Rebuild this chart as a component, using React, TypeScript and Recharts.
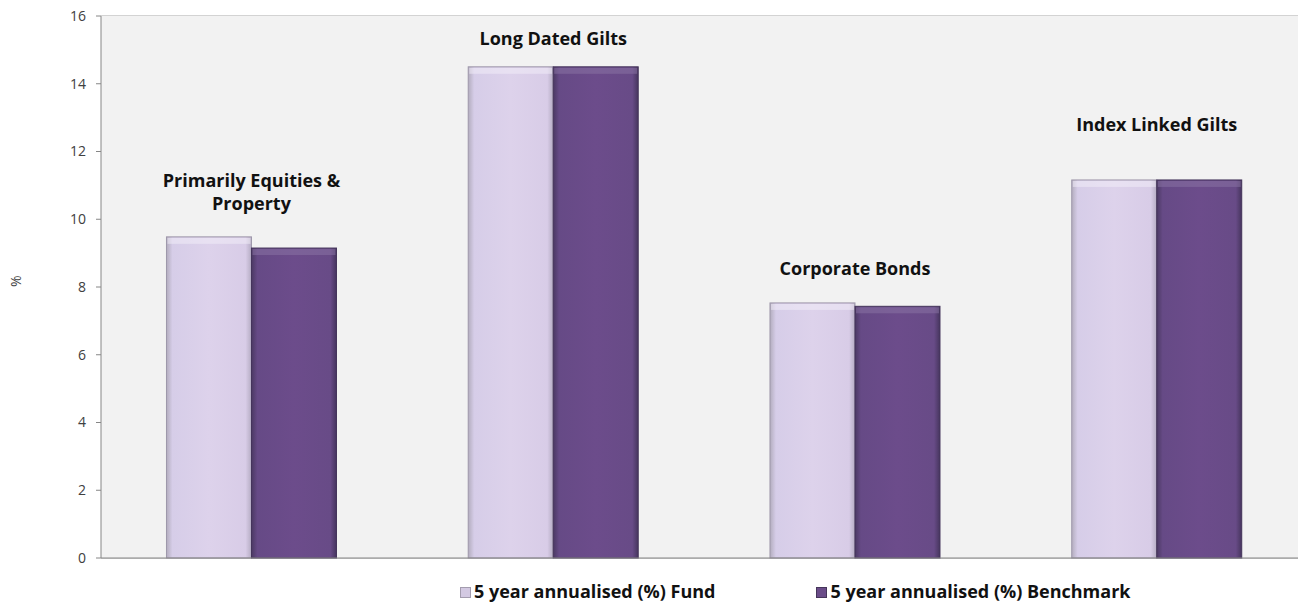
import { BarChart, Bar, XAxis, YAxis, CartesianGrid, LabelList } from "recharts"

const categories = ["Primarily Equities & Property", "Long Dated Gilts", "Corporate Bonds", "Index Linked Gilts"]
const fundValues = [9.48, 14.5, 7.53, 11.16]
const benchmarkValues = [9.15, 14.5, 7.43, 11.16]
const yTicks = [0, 2, 4, 6, 8, 10, 12, 14, 16]

// how far each category title baseline sits above its bars (hand placed in the original)
const LABEL_LIFT = [27, 22, 28, 49]

const data = categories.map((name, i) => ({
  name,
  fund: fundValues[i],
  benchmark: benchmarkValues[i],
}))

const FONT = "'Open Sans', 'DejaVu Sans', sans-serif"

function wrapTitle(name: string) {
  return name.length > 20 ? name.replace(" & ", " &\n").split("\n") : [name]
}

function CategoryTitle(props: any) {
  const { x, y, width, index } = props
  const lines = wrapTitle(categories[index])
  const cx = x + width
  const baseline = y - LABEL_LIFT[index]
  return (
    <text x={cx} textAnchor="middle" fontFamily={FONT} fontWeight={700} fontSize={18} fill="#111">
      {lines.map((line, i) => (
        <tspan key={i} x={cx} y={baseline - (lines.length - 1 - i) * 23}>
          {line}
        </tspan>
      ))}
    </text>
  )
}

// glossy excel-ish bar: side gradient, lighter top rim
function GlossBar(props: any) {
  const { x, y, width, height, fill, stroke, rim } = props
  if (!height || height <= 0) return null
  return (
    <g>
      <rect x={x} y={y} width={width} height={height} fill={fill} />
      <rect x={x + 1} y={y + 1} width={width - 2} height={6} fill={rim} opacity={0.5} />
      <rect x={x} y={y} width={width} height={height} fill="none" stroke={stroke} strokeWidth={1} />
    </g>
  )
}

function LegendSwatch({ color, edge }: { color: string; edge: string }) {
  return (
    <span
      style={{
        display: "inline-block",
        width: 11,
        height: 11,
        background: color,
        border: `1px solid ${edge}`,
        marginRight: 3,
        verticalAlign: "middle",
        position: "relative",
        top: -1,
        boxSizing: "border-box",
      }}
    />
  )
}

export default function App() {
  return (
    <div style={{ position: "absolute", left: 0, top: 0, width: 1298, height: 602, background: "#fff", overflow: "hidden" }}>
      <BarChart
        width={1308}
        height={602}
        data={data}
        margin={{ top: 16, right: 0, bottom: 43, left: 0 }}
        barCategoryGap="21.7%"
        barGap={0}
      >
        <defs>
          <linearGradient id="fundFill" x1="0" y1="0" x2="1" y2="0">
            <stop offset="0%" stopColor="#b3adbe" />
            <stop offset="7%" stopColor="#d6cde8" />
            <stop offset="50%" stopColor="#ddd2eb" />
            <stop offset="93%" stopColor="#d8cce7" />
            <stop offset="100%" stopColor="#b5acc3" />
          </linearGradient>
          <linearGradient id="benchFill" x1="0" y1="0" x2="1" y2="0">
            <stop offset="0%" stopColor="#4b3963" />
            <stop offset="7%" stopColor="#664a86" />
            <stop offset="50%" stopColor="#6c4c8b" />
            <stop offset="93%" stopColor="#684b87" />
            <stop offset="100%" stopColor="#46355e" />
          </linearGradient>
        </defs>
        <rect x={101} y={16} width={1207} height={542} fill="#f2f2f2" />
        <CartesianGrid vertical={false} stroke="#a6a6a6" strokeWidth={1} />
        <XAxis dataKey="name" tick={false} tickLine={false} height={1} stroke="#868686" />
        <YAxis
          width={101}
          domain={[0, 16]}
          ticks={yTicks}
          interval={0}
          tickSize={5}
          tickMargin={10}
          stroke="#868686"
          tick={{ fill: "#404040", fontSize: 14, fontFamily: FONT }}
          label={{ value: "%", angle: -90, position: "insideLeft", offset: 16, fill: "#404040", fontSize: 14, fontFamily: FONT }}
        />
        <Bar
          dataKey="fund"
          fill="url(#fundFill)"
          isAnimationActive={false}
          shape={(p: any) => <GlossBar {...p} fill="url(#fundFill)" stroke="#9e97aa" rim="#f4f0fa" />}
        >
          <LabelList dataKey="fund" content={CategoryTitle} />
        </Bar>
        <Bar
          dataKey="benchmark"
          fill="url(#benchFill)"
          isAnimationActive={false}
          shape={(p: any) => <GlossBar {...p} fill="url(#benchFill)" stroke="#44345a" rim="#8c76a6" />}
        />
      </BarChart>
      <div
        style={{
          position: "absolute",
          top: 579,
          left: 460,
          fontFamily: FONT,
          fontWeight: 700,
          fontSize: 18,
          color: "#111",
          whiteSpace: "nowrap",
          lineHeight: "24px",
        }}
      >
        <span>
          <LegendSwatch color="#d3c9e2" edge="#a39cae" />
          5 year annualised (%) Fund
        </span>
        <span style={{ marginLeft: 101 }}>
          <LegendSwatch color="#6a4c88" edge="#45355a" />
          5 year annualised (%) Benchmark
        </span>
      </div>
    </div>
  )
}
